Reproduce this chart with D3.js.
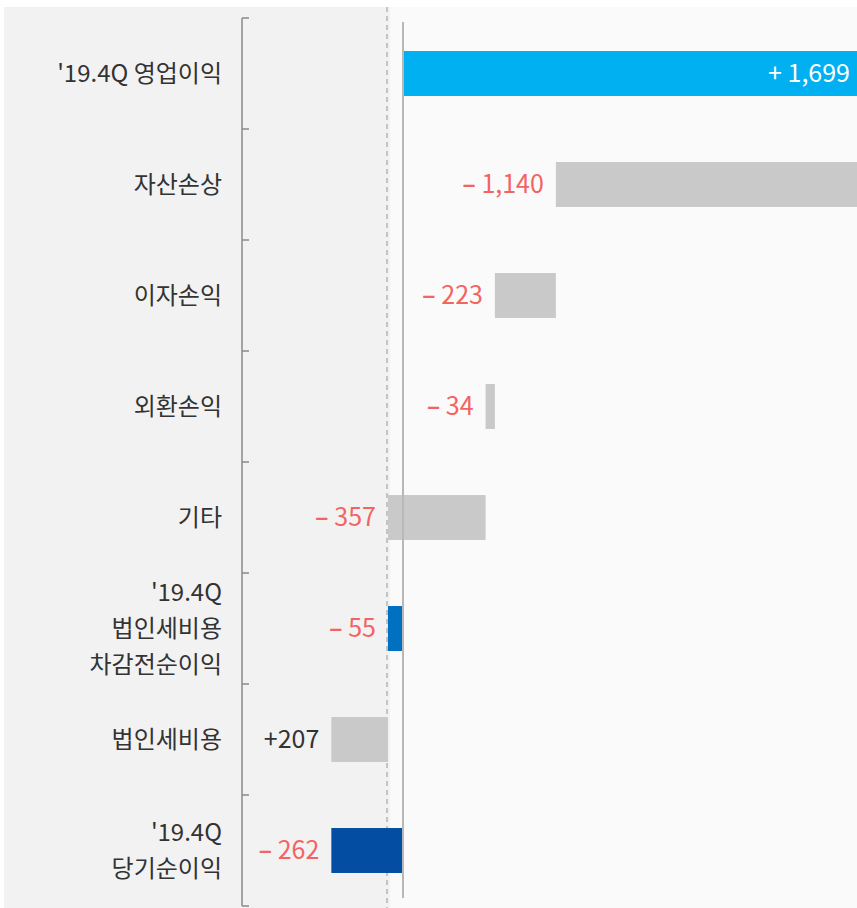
<!DOCTYPE html>
<html>
<head>
<meta charset="utf-8">
<script src="https://cdn.jsdelivr.net/npm/d3@7"></script>
<style>
  body { margin: 0; background: #fff; }
  text { font-family: "Noto Sans CJK KR", "Noto Sans", sans-serif; }
</style>
</head>
<body>
<div id="chart"></div>
<script>
const width = 857
const height = 908

// data
const categories = ["'19.4Q 영업이익", "자산손상", "이자손익", "외환손익", "기타", "'19.4Q\n법인세비용\n차감전순이익", "법인세비용", "'19.4Q\n당기순이익"]
const values = [1699, -1140, -223, -34, -357, -55, -207, -262]
const kinds = ["total", "delta", "delta", "delta", "delta", "total", "delta", "total"]
const signs = ["+", "-", "-", "-", "-", "-", "+", "-"]
const valueLabels = ["1,699", "1,140", "223", "34", "357", "55", "207", "262"]
const barColors = ["#00b0f0", "#c9c9c9", "#c9c9c9", "#c9c9c9", "#c9c9c9", "#0070c0", "#c9c9c9", "#034ea2"]
const labelColors = ["#ffffff", "#f26464", "#f26464", "#f26464", "#f26464", "#f26464", "#333333", "#f26464"]

// waterfall start / end
let run = 0
const bars = values.map((v, i) => {
    let from, to
    if (kinds[i] == "total") { from = 0; to = v; run = v }
    else { from = run; to = run + v; run = to }
    return { cat: categories[i], v: v, from: Math.min(from, to), to: Math.max(from, to), i: i }
})

const svg = d3.select("#chart").append("svg").attr("width", width).attr("height", height)

// backgrounds
svg.append("rect").attr("x", 4).attr("y", 7).attr("width", 386).attr("height", height - 7).attr("fill", "#f2f2f2")
svg.append("rect").attr("x", 390).attr("y", 7).attr("width", width - 390).attr("height", height - 7).attr("fill", "#fafafa")

// scales
const y = d3.scaleBand().domain(categories).range([18, 906]).paddingInner(0.595).paddingOuter(0.2975)
const x = d3.scaleLinear().domain([0, 1699]).range([403, 403 + 1699 * 0.2735])

// bracket axis
const step = y.step()
const axisG = svg.append("g")
axisG.append("line").attr("x1", 242).attr("x2", 242).attr("y1", 18).attr("y2", 906)
    .attr("stroke", "#8a8a8a").attr("stroke-width", 1.5)
axisG.selectAll(".tk").data(d3.range(categories.length + 1)).enter().append("line")
    .attr("x1", 242).attr("x2", 249)
    .attr("y1", d => 18 + d * step).attr("y2", d => 18 + d * step)
    .attr("stroke", "#8a8a8a").attr("stroke-width", 1.5)

// category labels
const catG = svg.append("g")
categories.forEach((c, i) => {
    const lines = c.split("\n")
    const cy = y(c) + y.bandwidth() / 2
    const lh = 36
    const t = catG.append("text").attr("text-anchor", "end").attr("font-size", 24).attr("fill", "#333")
    lines.forEach((l, j) => {
        t.append("tspan").attr("x", 222).attr("y", cy + (j - (lines.length - 1) / 2) * lh).attr("dy", "0.35em").text(l)
    })
})

// dashed line
svg.append("line").attr("x1", 387).attr("x2", 387).attr("y1", 7).attr("y2", height)
    .attr("stroke", "#b5b5b5").attr("stroke-width", 1.5).attr("stroke-dasharray", "5,4")

// bars
svg.append("g").selectAll("rect").data(bars).enter().append("rect")
    .attr("x", d => x(d.from))
    .attr("y", d => y(d.cat))
    .attr("width", d => x(d.to) - x(d.from))
    .attr("height", y.bandwidth())
    .attr("fill", d => barColors[d.i])

// zero line
svg.append("line").attr("x1", 403).attr("x2", 403).attr("y1", 22).attr("y2", 898)
    .attr("stroke", "#b8b8b8").attr("stroke-width", 2)

// value labels
const vl = svg.append("g").selectAll("text").data(bars).enter().append("text")
    .attr("x", d => d.i == 0 ? 850 : x(d.from) - 12)
    .attr("y", d => y(d.cat) + y.bandwidth() / 2)
    .attr("dy", "0.35em")
    .attr("text-anchor", "end")
    .attr("font-size", 25)
    .attr("fill", d => labelColors[d.i])
vl.append("tspan")
    .attr("font-weight", d => signs[d.i] == "-" ? "bold" : "normal")
    .text(d => signs[d.i] == "-" ? "–" : "+")
vl.append("tspan")
    .text(d => (d.i == 6 ? "" : " ") + valueLabels[d.i])
</script>
</body>
</html>
